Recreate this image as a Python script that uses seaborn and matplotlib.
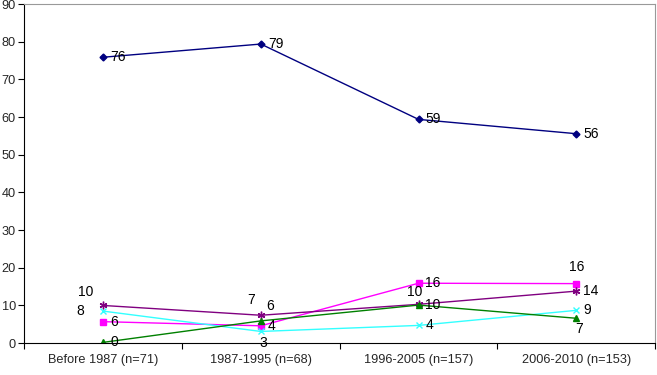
import pandas as pd
import matplotlib
matplotlib.use("Agg")
import matplotlib.pyplot as plt
import seaborn as sns

# categories on the x axis
periods = ["Before 1987 (n=71)", "1987-1995 (n=68)", "1996-2005 (n=157)", "2006-2010 (n=153)"]

# series values (percent), with their printed labels
s_navy = [75.9, 79.4, 59.4, 55.6]
s_navy_lbl = ["76", "79", "59", "56"]
s_magenta = [5.7, 4.6, 15.9, 15.8]
s_magenta_lbl = ["6", "4", "16", "16"]
s_purple = [10.0, 7.4, 10.3, 13.8]
s_purple_lbl = ["10", "7", "10", "14"]
s_cyan = [8.5, 3.1, 4.7, 8.7]
s_cyan_lbl = ["8", "3", "4", "9"]
s_green = [0.2, 5.9, 10.1, 6.6]
s_green_lbl = ["0", "6", "10", "7"]

series = {
    "A": (s_navy, s_navy_lbl),
    "B": (s_magenta, s_magenta_lbl),
    "C": (s_purple, s_purple_lbl),
    "D": (s_cyan, s_cyan_lbl),
    "E": (s_green, s_green_lbl),
}

colors = {"A": "#000080", "B": "#FF00FF", "C": "#800080", "D": "#33FFFF", "E": "#008000"}
markers = {"A": "D", "B": "s", "C": (6, 2, 0), "D": "x", "E": "^"}
msizes = {"A": 3.5, "B": 4.5, "C": 5.5, "D": 5, "E": 4.5}

# label offsets in points (dx, dy, ha, va) for each point
offsets = {
    "A": [(5, 0, "left", "center")] * 4,
    "B": [(5, 0, "left", "center"), (5, 0, "left", "center"),
          (5, 0, "left", "center"), (0, 7, "center", "bottom")],
    "C": [(-7, 5, "right", "bottom"), (-4, 6, "right", "bottom"),
          (-3, 4, "center", "bottom"), (5, 0, "left", "center")],
    "D": [(-14, 0, "right", "center"), (2, -3, "center", "top"),
          (5, 0, "left", "center"), (5, 0, "left", "center")],
    "E": [(5, 0, "left", "center"), (4, 6, "left", "bottom"),
          (5, 0, "left", "center"), (2, -3, "center", "top")],
}

rows = []
for name, (vals, _) in series.items():
    for i, v in enumerate(vals):
        rows.append({"series": name, "x": i, "value": v})
df = pd.DataFrame(rows)

sns.set_style("white")
plt.rcParams["font.family"] = ["Liberation Sans", "DejaVu Sans"]

fig = plt.figure(figsize=(6.57, 3.75), dpi=100)
ax = fig.add_axes([0.037, 0.085, 0.96, 0.904])

for name in series:
    sub = df[df["series"] == name]
    sns.lineplot(data=sub, x="x", y="value", ax=ax, color=colors[name],
                 marker=markers[name], markersize=msizes[name],
                 markeredgecolor=colors[name], markeredgewidth=1.0,
                 linewidth=1.0, legend=False)
    vals, lbls = series[name]
    for i, (v, t) in enumerate(zip(vals, lbls)):
        dx, dy, ha, va = offsets[name][i]
        ax.annotate(t, (i, v), xytext=(dx, dy), textcoords="offset points",
                    ha=ha, va=va, fontsize=10, color="black")

ax.set_xlim(-0.5, 3.5)
ax.set_ylim(0, 90)
ax.set_yticks(range(0, 91, 10))
ax.set_xticks(range(4))
ax.set_xticklabels(periods)
ax.set_xticks([-0.5, 0.5, 1.5, 2.5, 3.5], minor=True)
ax.tick_params(axis="x", which="major", length=0, pad=8, labelsize=9.2)
ax.tick_params(axis="x", which="minor", length=4, width=0.8, color="black", direction="out", bottom=True)
ax.tick_params(axis="y", length=4, width=0.8, color="black", direction="out", left=True, labelsize=9.2, pad=2)
ax.set_xlabel("")
ax.set_ylabel("")

for side in ["left", "bottom"]:
    ax.spines[side].set_color("black")
    ax.spines[side].set_linewidth(0.8)
for side in ["top", "right"]:
    ax.spines[side].set_color("#999999")
    ax.spines[side].set_linewidth(0.8)

fig.savefig("out.png", dpi=100)
